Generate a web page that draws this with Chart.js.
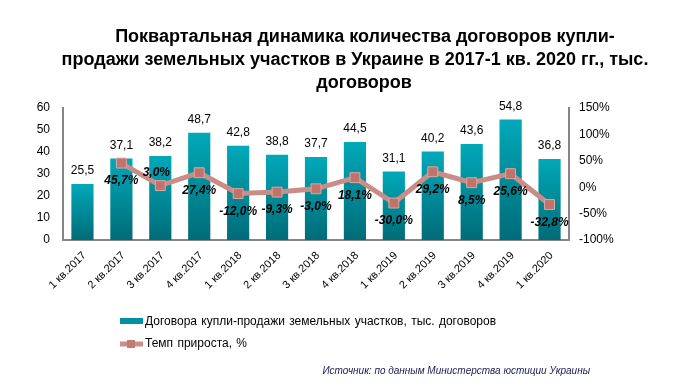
<!DOCTYPE html>
<html>
<head>
<meta charset="utf-8">
<script src="https://cdn.jsdelivr.net/npm/chart.js@4"></script>
<style>
  html, body { margin: 0; padding: 0; background: #fff; }
  #wrap { width: 690px; height: 388px; }
</style>
</head>
<body>
<div id="wrap"><canvas id="chart" width="690" height="388"></canvas></div>
<script>
const quarters = ['1 кв.2017', '2 кв.2017', '3 кв.2017', '4 кв.2017', '1 кв.2018', '2 кв.2018', '3 кв.2018',
  '4 кв.2018', '1 кв.2019', '2 кв.2019', '3 кв.2019', '4 кв.2019', '1 кв.2020'];
const contracts = [25.5, 37.1, 38.2, 48.7, 42.8, 38.8, 37.7, 44.5, 31.1, 40.2, 43.6, 54.8, 36.8];
const growth = [null, 45.7, 3.0, 27.4, -12.0, -9.3, -3.0, 18.1, -30.0, 29.2, 8.5, 25.6, -32.8];
const labelsAbove = [2];   // growth labels drawn above the marker

const titleLines = ['Поквартальная динамика количества договоров купли-',
  'продажи земельных участков в Украине в 2017-1 кв. 2020 гг., тыс.',
  'договоров'];
const legendNames = ['Договора купли-продажи земельных участков, тыс. договоров', 'Темп прироста, %'];
const sourceText = 'Источник: по данным Министерства юстиции Украины';

const FONT = '"Liberation Sans", Arial, sans-serif';
const fmt = (v, d) => v.toFixed(d).replace('.', ',');

function barGradient(ctx) {
  const chart = ctx.chart;
  if (!chart.chartArea || ctx.type !== 'data') return '#0096a4';
  const y = chart.scales.y;
  const top = y.getPixelForValue(ctx.raw);
  const bottom = y.getPixelForValue(0);
  const g = chart.ctx.createLinearGradient(0, top, 0, bottom);
  g.addColorStop(0, '#00a9b9');
  g.addColorStop(1, '#006c78');
  return g;
}

const extras = {
  id: 'extras',
  afterDatasetsDraw(chart) {
    const ctx = chart.ctx;
    ctx.save();
    ctx.textAlign = 'center';
    ctx.textBaseline = 'middle';
    // bar values (dataset 1)
    ctx.fillStyle = '#000';
    ctx.font = '12px ' + FONT;
    chart.getDatasetMeta(1).data.forEach((bar, i) => {
      ctx.fillText(fmt(contracts[i], 1), bar.x, bar.y - 13);
    });
    // growth values (dataset 0)
    ctx.font = 'bold italic 12px ' + FONT;
    chart.getDatasetMeta(0).data.forEach((pt, i) => {
      if (growth[i] === null) return;
      const above = labelsAbove.includes(i);
      ctx.fillText(fmt(growth[i], 1) + '%', pt.x - (above ? 4 : 0), pt.y + (above ? -13 : 18));
    });
    ctx.restore();
  },
  afterDraw(chart) {
    const ctx = chart.ctx;
    ctx.save();
    // title
    ctx.fillStyle = '#000';
    ctx.font = 'bold 18px ' + FONT;
    ctx.textAlign = 'center';
    ctx.textBaseline = 'alphabetic';
    ctx.fillText(titleLines[0], 365, 42, 542);
    ctx.fillText(titleLines[1], 355, 65, 588);
    ctx.fillText(titleLines[2], 364, 88);
    // legend
    ctx.textAlign = 'left';
    ctx.textBaseline = 'middle';
    ctx.font = '12px ' + FONT;
    ctx.wordSpacing = '1px';
    ctx.fillStyle = '#0090a0';
    ctx.fillRect(120, 318, 23, 6);
    ctx.fillStyle = '#000';
    ctx.fillText(legendNames[0], 145, 322);
    ctx.strokeStyle = '#cc8e88';
    ctx.lineWidth = 5;
    ctx.beginPath();
    ctx.moveTo(120, 344);
    ctx.lineTo(143, 344);
    ctx.stroke();
    ctx.fillStyle = '#c27a72';
    ctx.fillRect(127, 340, 8, 8);
    ctx.fillStyle = '#000';
    ctx.fillText(legendNames[1], 145, 344);
    // source
    ctx.wordSpacing = '0px';
    ctx.textAlign = 'right';
    ctx.font = 'italic 10px ' + FONT;
    ctx.fillStyle = '#1a1a50';
    ctx.fillText(sourceText, 590, 371);
    ctx.restore();
  }
};

new Chart(document.getElementById('chart'), {
  data: {
    labels: quarters,
    datasets: [
      {
        type: 'line',
        label: legendNames[1],
        data: growth,
        yAxisID: 'y1',
        borderColor: '#c98c86',
        borderWidth: 5,
        pointStyle: 'rect',
        pointRadius: 7,
        pointHoverRadius: 7,
        pointBackgroundColor: '#c0736a',
        pointBorderColor: '#dca8a2',
        pointBorderWidth: 1,
        tension: 0,
        spanGaps: false,
        order: 0
      },
      {
        type: 'bar',
        label: legendNames[0],
        data: contracts,
        yAxisID: 'y',
        backgroundColor: barGradient,
        categoryPercentage: 1,
        barPercentage: 0.57,
        order: 1
      }
    ]
  },
  options: {
    responsive: false,
    animation: false,
    layout: { padding: { top: 108, left: 0, right: 0, bottom: 0 } },
    plugins: {
      legend: { display: false },
      title: { display: false },
      tooltip: { enabled: false }
    },
    scales: {
      x: {
        grid: { display: false, drawTicks: false },
        border: { color: '#868686', width: 2 },
        ticks: {
          color: '#000',
          font: { family: FONT, size: 11 },
          minRotation: 45,
          maxRotation: 45,
          padding: 9,
          labelOffset: 2
        },
        afterFit(scale) { scale.height = 148; }
      },
      y: {
        position: 'left',
        min: 0,
        max: 60,
        grid: { display: false, drawTicks: false },
        border: { color: '#868686', width: 2 },
        ticks: {
          stepSize: 10,
          color: '#000',
          font: { family: FONT, size: 12 },
          padding: 13
        },
        afterFit(scale) { scale.width = 63; }
      },
      y1: {
        position: 'right',
        min: -100,
        max: 150,
        grid: { display: false, drawOnChartArea: false, tickLength: 5, color: '#868686' },
        border: { color: '#868686', width: 2 },
        ticks: {
          stepSize: 50,
          color: '#000',
          font: { family: FONT, size: 12 },
          padding: 5,
          callback: v => v + '%'
        },
        afterFit(scale) { scale.width = 121; }
      }
    }
  },
  plugins: [extras]
});
</script>
</body>
</html>
